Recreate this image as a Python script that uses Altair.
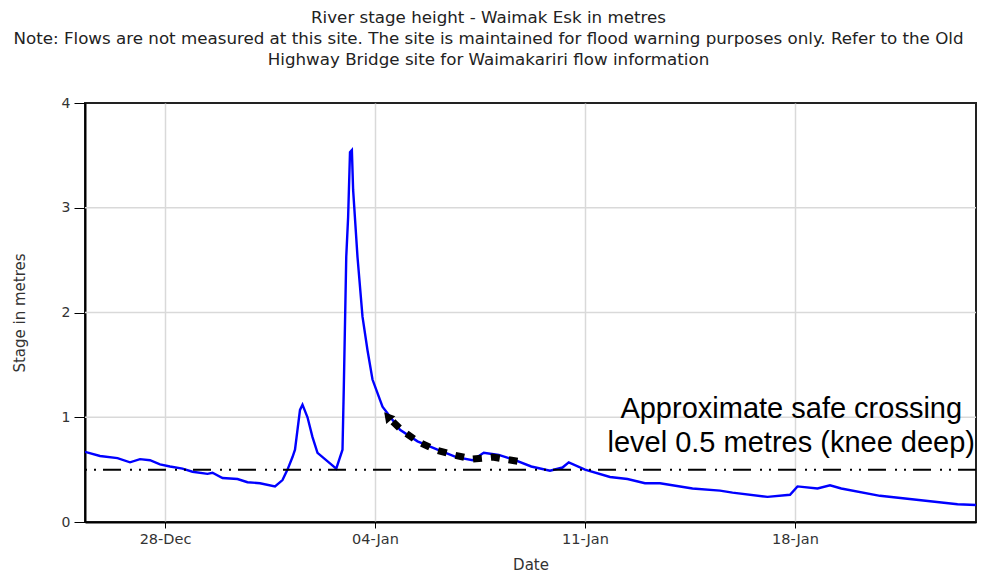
import altair as alt
import pandas as pd

# Stage series (time, metres)
times = [
    "2017-12-25T08:00", "2017-12-25T20:00", "2017-12-26T10:00", "2017-12-26T20:00",
    "2017-12-27T04:00", "2017-12-27T12:00", "2017-12-27T20:00", "2017-12-28T04:00",
    "2017-12-28T14:00", "2017-12-28T22:00", "2017-12-29T10:00", "2017-12-29T14:00",
    "2017-12-29T22:00", "2017-12-30T10:00", "2017-12-30T18:00", "2017-12-31T04:00",
    "2017-12-31T16:00", "2017-12-31T22:00", "2018-01-01T02:00", "2018-01-01T06:00",
    "2018-01-01T08:00", "2018-01-01T12:00", "2018-01-01T14:00", "2018-01-01T18:00",
    "2018-01-01T22:00", "2018-01-02T02:00", "2018-01-02T12:00", "2018-01-02T17:00",
    "2018-01-02T22:00", "2018-01-02T23:00", "2018-01-03T01:00", "2018-01-03T02:30",
    "2018-01-03T04:00", "2018-01-03T05:30", "2018-01-03T06:30", "2018-01-03T10:00",
    "2018-01-03T14:00", "2018-01-03T18:00", "2018-01-03T22:00", "2018-01-04T06:00",
    "2018-01-04T20:00", "2018-01-05T10:00", "2018-01-06T02:00", "2018-01-06T17:00",
    "2018-01-07T06:00", "2018-01-07T15:00", "2018-01-08T03:00", "2018-01-08T16:00",
    "2018-01-09T05:00", "2018-01-09T20:00", "2018-01-10T06:00", "2018-01-10T11:00",
    "2018-01-11T00:00", "2018-01-11T20:00", "2018-01-12T10:00", "2018-01-13T00:00",
    "2018-01-13T12:00", "2018-01-14T14:00", "2018-01-15T12:00", "2018-01-15T22:00",
    "2018-01-17T02:00", "2018-01-17T20:00", "2018-01-18T02:00", "2018-01-18T18:00",
    "2018-01-19T04:00", "2018-01-19T13:00", "2018-01-20T20:00", "2018-01-22T03:00",
    "2018-01-23T10:00", "2018-01-24T04:00",
]
stage = [
    0.67, 0.63, 0.61, 0.57,
    0.60, 0.59, 0.55, 0.53,
    0.51, 0.48, 0.46, 0.47,
    0.42, 0.41, 0.38, 0.37,
    0.34, 0.40, 0.50, 0.62,
    0.69, 1.07, 1.12, 1.00,
    0.81, 0.66, 0.56, 0.51,
    0.69, 1.26, 2.53, 2.91,
    3.53, 3.55, 3.17, 2.53,
    1.96, 1.64, 1.36, 1.10,
    0.88, 0.77, 0.69, 0.62,
    0.59, 0.66, 0.64, 0.59,
    0.53, 0.49, 0.52, 0.57,
    0.50, 0.43, 0.41, 0.37,
    0.37, 0.32, 0.30, 0.28,
    0.24, 0.26, 0.34, 0.32,
    0.35, 0.32, 0.25, 0.21,
    0.17, 0.16,
]

# Hand-drawn dashed arrow annotation
arrow_times = [
    "2018-01-08T18:00", "2018-01-07T22:00", "2018-01-07T06:00", "2018-01-06T15:00",
    "2018-01-06T00:00", "2018-01-05T10:00", "2018-01-04T21:00", "2018-01-04T14:00",
]
arrow_stage = [0.58, 0.62, 0.60, 0.64, 0.69, 0.77, 0.88, 0.96]
arrow_head_time = ["2018-01-04T10:00"]
arrow_head_stage = [1.01]

safe_level = 0.5
note_time = ["2018-01-17T21:00"]
note_stage = [0.99]
note_text = [["Approximate safe crossing", "level 0.5 metres (knee deep)"]]

y_ticks = [0, 1, 2, 3, 4]
y_grid = [1, 2, 3]

title_lines = [
    "River stage height - Waimak Esk in metres",
    "Note: Flows are not measured at this site. The site is maintained for flood warning purposes only. Refer to the Old",
    "Highway Bridge site for Waimakariri flow information",
]

df = pd.DataFrame({"t": times, "v": stage})
arrow_df = pd.DataFrame({"t": arrow_times, "v": arrow_stage, "o": list(range(len(arrow_times)))})
head_df = pd.DataFrame({"t": arrow_head_time, "v": arrow_head_stage})
note_df = pd.DataFrame({"t": note_time, "v": note_stage, "label": note_text})
level_df = pd.DataFrame({"v": [safe_level]})
grid_df = pd.DataFrame({"v": y_grid})

FONT = "DejaVu Sans"

x_scale = alt.Scale(domain=[alt.DateTime(year=2017, month=12, date=25, hours=8),
                            alt.DateTime(year=2018, month=1, date=24, hours=0, minutes=48)])
y_scale = alt.Scale(domain=[0, 4], nice=False)

x_axis = alt.Axis(
    title="Date", format="%d-%b",
    values=[alt.DateTime(year=2017, month=12, date=28), alt.DateTime(year=2018, month=1, date=4),
            alt.DateTime(year=2018, month=1, date=11), alt.DateTime(year=2018, month=1, date=18)],
    labelFont=FONT, labelFontSize=14.5, labelColor="#333", labelPadding=4,
    titleFont=FONT, titleFontSize=15, titleFontWeight="normal", titleColor="#333", titlePadding=12,
    tickSize=6, tickColor="#000", domainColor="#000", domainWidth=2,
    gridColor="#d9d9d9", gridWidth=1.5,
)
y_axis = alt.Axis(
    title="Stage in metres", values=y_ticks, format="d", grid=False,
    labelFont=FONT, labelFontSize=14, labelColor="#333", labelPadding=4,
    titleFont=FONT, titleFontSize=15, titleFontWeight="normal", titleColor="#333", titlePadding=34,
    tickSize=11, tickColor="#000", domainColor="#000", domainWidth=2,
)

base_x = alt.X("t:T", scale=x_scale, axis=x_axis)
base_y = alt.Y("v:Q", scale=y_scale, axis=y_axis)

grid = alt.Chart(grid_df).mark_rule(color="#d9d9d9", strokeWidth=1.5).encode(
    y=alt.Y("v:Q", scale=y_scale)
)

line = alt.Chart(df).mark_line(color="#0000ff", strokeWidth=2.4, clip=True).encode(x=base_x, y=base_y)

level = alt.Chart(level_df).mark_rule(
    color="#000", strokeWidth=2, strokeDash=[18, 7, 2, 7, 2, 9]
).encode(y=alt.Y("v:Q", scale=y_scale))

arrow = alt.Chart(arrow_df).mark_line(
    color="#000", strokeWidth=7, strokeDash=[9, 9]
).encode(x=alt.X("t:T", scale=x_scale), y=alt.Y("v:Q", scale=y_scale), order="o:Q")

head = alt.Chart(head_df).mark_point(
    shape="triangle-up", filled=True, color="#000", size=140, angle=320, opacity=1
).encode(x=alt.X("t:T", scale=x_scale), y=alt.Y("v:Q", scale=y_scale))

note = alt.Chart(note_df).mark_text(
    font="Liberation Sans", fontSize=29, color="#000", align="center",
    baseline="alphabetic", lineHeight=34
).encode(x=alt.X("t:T", scale=x_scale), y=alt.Y("v:Q", scale=y_scale), text="label")

chart = alt.layer(grid, line, level, arrow, head, note).properties(
    width=891, height=419,
    title=alt.TitleParams(
        text=title_lines, font=FONT, fontSize=16.7, fontWeight="normal", color="#222",
        anchor="middle", dx=-42, offset=27, lineHeight=21,
    ),
    autosize=alt.AutoSizeParams(type="none"),
    padding={"left": 77, "top": 95, "right": 1, "bottom": 54},
).configure_view(stroke="#222", strokeWidth=2)

chart.save("out.html", embed_options={"renderer": "svg", "actions": False})
